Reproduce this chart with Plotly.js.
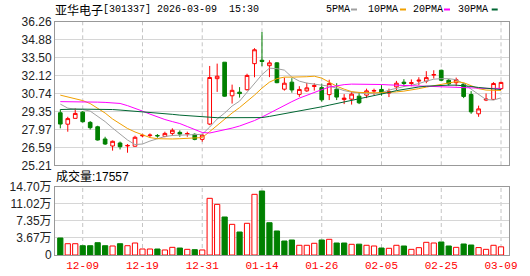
<!DOCTYPE html>
<html>
<head>
<meta charset="utf-8">
<script src="https://cdn.plot.ly/plotly-3.0.1.min.js"></script>
<style>html,body{margin:0;padding:0;background:#fff;}#chart{width:530px;height:276px;}</style>
</head>
<body>
<div id="chart"></div>
<script>
// ---- data ----
const stockName = '亚华电子';
const stockCode = '301337';
const stamp = '2026-03-09  15:30';
const dates = ['12-04','12-05','12-08','12-09','12-10','12-11','12-12','12-15','12-16','12-17','12-18','12-19','12-22','12-23','12-24','12-25','12-26','12-29','12-30','12-31','01-05','01-06','01-07','01-08','01-09','01-12','01-13','01-14','01-15','01-16','01-19','01-20','01-21','01-22','01-23','01-26','01-27','01-28','01-29','01-30','02-02','02-03','02-04','02-05','02-06','02-09','02-10','02-11','02-12','02-13','02-24','02-25','02-26','02-27','03-02','03-03','03-04','03-05','03-06','03-09'];
const open = [29.26,28.38,28.83,29.31,28.52,28.18,27.24,26.70,26.93,26.70,26.68,27.48,27.50,27.51,27.44,27.67,27.75,27.62,27.60,27.21,28.39,31.89,33.16,30.57,30.85,31.04,33.05,33.31,32.89,33.11,31.08,31.62,30.68,30.95,31.29,31.20,30.66,31.08,30.28,30.31,30.54,30.62,30.93,31.06,30.78,31.26,31.62,31.52,31.70,31.70,32.16,32.54,31.77,31.58,31.47,30.67,29.18,30.24,30.29,31.12];
const high = [29.52,28.95,29.60,29.39,28.62,28.26,27.41,27.12,27.04,26.85,27.49,27.64,27.67,27.62,27.80,28.06,27.90,27.80,27.67,27.64,32.87,33.05,33.16,31.43,31.24,32.27,34.24,35.49,33.31,33.16,31.97,31.93,31.31,31.57,31.54,31.51,31.81,31.54,30.70,30.89,30.81,31.12,31.12,31.39,31.12,31.72,31.85,31.83,32.00,32.47,32.54,32.58,31.85,31.97,31.58,30.93,29.81,30.75,31.62,31.66];
const low = [28.06,27.80,28.81,28.51,27.97,27.12,26.78,26.34,26.43,26.18,26.65,27.37,27.34,27.34,27.37,27.49,27.41,27.41,27.14,27.03,28.31,30.87,30.50,29.97,30.43,30.97,32.00,32.85,32.01,31.54,30.97,30.81,30.49,30.87,30.97,30.12,30.24,30.24,29.93,29.89,29.93,30.39,30.62,30.58,30.47,31.01,31.28,31.31,31.39,31.54,31.90,31.70,31.35,31.31,30.39,29.18,28.95,30.16,30.24,31.01];
const close = [28.39,28.81,29.21,28.57,28.11,27.16,26.85,27.06,26.64,26.74,27.37,27.52,27.54,27.48,27.67,27.91,27.62,27.66,27.21,27.54,31.98,32.08,30.54,30.99,30.74,32.14,34.12,33.22,33.11,31.58,31.54,31.02,31.06,31.18,31.35,30.26,31.51,30.47,30.39,30.70,30.03,30.95,30.98,30.80,30.89,31.54,31.52,31.58,31.77,31.97,32.21,31.77,31.49,31.81,30.52,29.33,29.56,30.31,31.52,31.60];
const volume = [36600,24300,24300,20000,20000,26500,20000,19400,24300,20000,25800,12900,12900,12900,10800,16500,15000,12200,11500,10800,122000,109000,81800,66000,49500,68200,130600,137700,69500,51700,30100,32300,20900,20900,25200,32300,33800,25800,25800,23000,23300,20900,19400,15000,14400,20900,19400,12200,15800,27300,25800,28000,19400,16500,23700,21500,16000,12200,20900,17557];
const ma5 = [29.93,29.62,29.54,29.51,29.39,29.01,28.58,28.08,27.62,27.16,26.81,26.85,27.08,27.28,27.43,27.51,27.52,27.55,27.55,27.60,28.16,28.78,29.24,29.78,30.16,30.85,31.47,32.20,32.70,32.66,32.55,32.01,31.70,31.55,31.47,31.39,31.31,31.16,30.97,30.85,30.78,30.74,30.74,30.81,31.01,31.16,31.28,31.39,31.51,31.70,31.85,31.89,31.89,31.81,31.51,31.08,30.70,30.28,30.24,30.41];
const ma10 = [30.62,30.47,30.37,30.20,29.97,29.62,29.24,28.78,28.39,28.05,27.78,27.55,27.35,27.26,27.24,27.24,27.26,27.29,27.31,27.35,27.81,28.31,28.78,29.24,29.66,30.12,30.62,31.16,31.62,31.89,32.01,32.01,32.01,32.04,32.08,31.93,31.62,31.31,31.08,30.89,30.83,30.80,30.80,30.81,30.83,30.87,30.93,31.01,31.12,31.24,31.35,31.47,31.58,31.66,31.58,31.35,31.12,31.01,30.97,30.98];
const ma20 = [30.12,30.12,30.12,30.11,30.08,30.08,30.06,30.03,29.98,29.81,29.62,29.39,29.16,28.93,28.74,28.58,28.43,28.20,27.97,27.74,27.70,27.81,27.93,28.08,28.24,28.43,28.66,28.93,29.24,29.54,29.81,30.12,30.39,30.62,30.85,31.04,31.24,31.35,31.43,31.47,31.47,31.47,31.47,31.44,31.41,31.39,31.37,31.34,31.31,31.29,31.26,31.24,31.21,31.18,31.16,31.14,31.14,31.14,31.14,31.14];
const ma30 = [29.51,29.54,29.54,29.54,29.54,29.54,29.54,29.51,29.47,29.43,29.39,29.34,29.29,29.24,29.18,29.14,29.08,29.03,28.98,28.93,28.89,28.88,28.88,28.88,28.88,28.88,28.89,28.89,28.98,29.08,29.20,29.30,29.41,29.51,29.62,29.72,29.85,29.97,30.08,30.20,30.31,30.43,30.57,30.70,30.83,30.97,31.08,31.18,31.25,31.31,31.35,31.38,31.39,31.39,31.35,31.29,31.21,31.14,31.08,31.05];
const maNames = ['5PMA','10PMA','20PMA','30PMA'];
const priceTicks = [25.21,26.59,27.97,29.35,30.74,32.12,33.50,34.88,36.26];
const volTicks = [0,36750,73500,110250,147000];
const volTickText = ['0','3.67万','7.35万','11.02万','14.70万'];
const dateTicks = ['12-09','12-19','12-31','01-14','01-26','02-05','02-25','03-09'];

// ---- style ----
const RED = '#ff0000', GREEN = '#008000';
const maColors = ['#a0a0a0','#f0a000','#ff00ff','#006633'];
const W = 530, H = 276, ML = 55, MR = 21, MT = 22, MB = 21;
const PW = W - ML - MR, PH = H - MT - MB;
const px = x => (x - ML) / PW;
const py = y => (H - MB - y) / PH;

const volUp = volume.map((v, i) => i === 0 ? close[i] >= open[i] : close[i] >= close[i - 1]);

const traces = [
  {type:'candlestick', x:dates, open:open, high:high, low:low, close:close,
   xaxis:'x', yaxis:'y', whiskerwidth:0, hoverinfo:'none', showlegend:false,
   increasing:{line:{color:RED, width:1}, fillcolor:'#ffffff'},
   decreasing:{line:{color:GREEN, width:1}, fillcolor:GREEN}}
];
[ma5, ma10, ma20, ma30].forEach((m, k) => traces.push({
  type:'scatter', mode:'lines', x:dates, y:m, xaxis:'x', yaxis:'y',
  line:{color:maColors[k], width:1}, hoverinfo:'none', showlegend:false, name:maNames[k]
}));
traces.push({type:'bar', x:dates, y:volume, xaxis:'x2', yaxis:'y2', hoverinfo:'none', showlegend:false,
  marker:{color:volUp.map(u => u ? '#ffffff' : GREEN), line:{color:volUp.map(u => u ? RED : GREEN), width:1}}});

const xr = [-0.71, 60.07];
const baseX = {type:'category', range:xr, tickmode:'array', tickvals:dateTicks, showgrid:false,
  showline:true, mirror:true, linecolor:'#999999', linewidth:1,
  ticks:'', zeroline:false, fixedrange:true, rangeslider:{visible:false}};
const tickFont = {family:'Liberation Sans, Arial, sans-serif', size:12, color:'#222222'};

const annotations = [
  {xref:'paper', yref:'paper', x:px(53), y:py(9.5), xanchor:'left', yanchor:'middle', showarrow:false,
   text:stockName, font:{family:'Noto Sans CJK SC', size:12, color:'#000'}},
  {xref:'paper', yref:'paper', x:px(101), y:py(9.5), xanchor:'left', yanchor:'middle', showarrow:false,
   text:'[' + stockCode + '] ' + stamp, font:{family:'Liberation Mono', size:10, color:'#000'}},
  {xref:'paper', yref:'paper', x:px(54), y:py(176.5), xanchor:'left', yanchor:'middle', showarrow:false,
   text:'成交量:' + volume[volume.length - 1], font:{family:'Liberation Sans, Noto Sans CJK SC', size:12, color:'#000'}}
];
const legendX = [326, 367.7, 412.7, 458.3];
const dashX = [351, 400, 444, 491.7];
const shapes = [];
// dashed vertical grid lines at the date ticks, in both panels
dateTicks.forEach(d => {
  [['x', 'y domain'], ['x2', 'y2 domain']].forEach(([xa, ya]) => shapes.push({
    type:'line', xref:xa, yref:ya, x0:d, x1:d, y0:0, y1:1, layer:'below',
    line:{color:'#c4c4c4', width:1, dash:'4px,3px'}}));
});
maNames.forEach((n, k) => {
  annotations.push({xref:'paper', yref:'paper', x:px(legendX[k] - 2), y:py(9.5), xanchor:'left', yanchor:'middle',
    showarrow:false, text:n, font:{family:'Liberation Mono', size:10, color:'#000'}});
  shapes.push({type:'line', xref:'paper', yref:'paper', x0:px(dashX[k]), x1:px(dashX[k] + 6), y0:py(9.5), y1:py(9.5),
    line:{color:maColors[k], width:2}});
});

const layout = {
  width:W, height:H, margin:{l:ML, r:MR, t:MT, b:MB, pad:0},
  paper_bgcolor:'#ffffff', plot_bgcolor:'#ffffff', showlegend:false, bargap:0.3, boxgap:0.3,
  xaxis:Object.assign({}, baseX, {anchor:'y', showticklabels:false}),
  xaxis2:Object.assign({}, baseX, {anchor:'y2', showticklabels:true,
    tickfont:{family:'Liberation Mono', size:11, color:RED}}),
  yaxis:{domain:[py(165.3), 1], range:[priceTicks[0], priceTicks[priceTicks.length - 1]],
    tickmode:'array', tickvals:priceTicks, ticktext:priceTicks.map(v => v.toFixed(2)), tickfont:tickFont,
    showgrid:true, gridcolor:'#d6d6d6', showline:true, mirror:true, linecolor:'#999999', linewidth:1,
    ticks:'', zeroline:false, fixedrange:true},
  yaxis2:{domain:[0, py(186.7)], range:[0, volTicks[volTicks.length - 1]], tickmode:'array', tickvals:volTicks, ticktext:volTickText,
    tickfont:Object.assign({}, tickFont, {family:'Liberation Sans, Noto Sans CJK SC'}),
    showgrid:true, gridcolor:'#d6d6d6', showline:true, mirror:true, linecolor:'#999999', linewidth:1,
    ticks:'', zeroline:false, fixedrange:true},
  annotations:annotations, shapes:shapes
};
Plotly.newPlot('chart', traces, layout, {staticPlot:true, displayModeBar:false});
</script>
</body>
</html>
